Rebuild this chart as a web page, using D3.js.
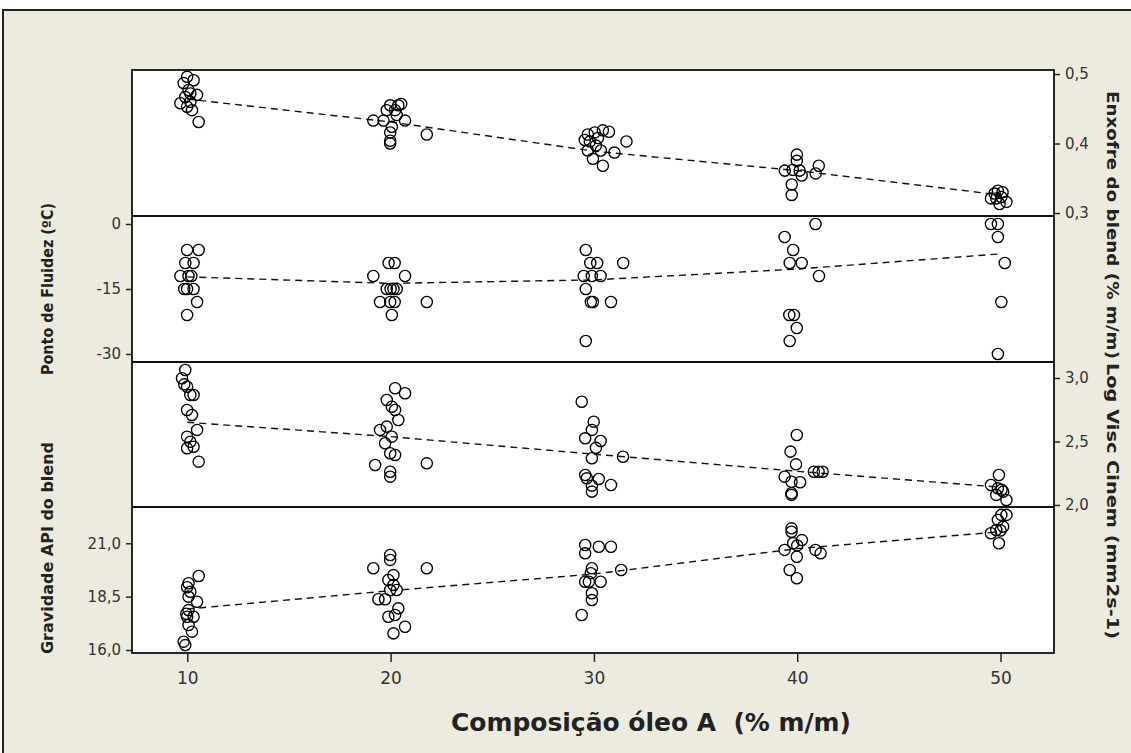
<!DOCTYPE html>
<html>
<head>
<meta charset="utf-8">
<script src="https://cdn.jsdelivr.net/npm/d3@7"></script>
<style>
  html, body { margin: 0; padding: 0; background: #ffffff; }
  svg { display: block; }
</style>
</head>
<body>
<svg id="chart" width="1131" height="753"></svg>
<script>
// ---------------- DATA ----------------
const xTicks = [10, 20, 30, 40, 50];
const groupX = [10, 20, 30, 40, 50];

// Panel 1: Enxofre do blend (% m/m)
const enxofreX = [9.99,10.31,9.82,10.06,10.48,9.90,9.66,10.15,9.99,10.23,10.56,10.15,
  19.98,20.38,19.81,20.22,19.15,20.71,19.65,20.06,19.98,19.98,19.98,21.78,20.30,20.52,
  29.70,30.04,30.44,30.74,29.80,30.10,30.34,29.70,29.95,30.44,31.01,31.60,29.55,30.20,
  39.98,39.98,39.39,39.78,40.22,39.73,39.73,40.91,41.06,40.12,
  49.71,49.87,50.04,50.29,49.95,49.53,49.79,50.10];
const enxofreY = [0.496,0.491,0.487,0.477,0.470,0.467,0.458,0.460,0.453,0.448,0.431,0.472,
  0.455,0.455,0.448,0.448,0.433,0.433,0.433,0.424,0.416,0.400,0.404,0.413,0.441,0.457,
  0.413,0.416,0.419,0.417,0.403,0.397,0.390,0.390,0.378,0.368,0.387,0.403,0.405,0.408,
  0.384,0.375,0.361,0.362,0.354,0.341,0.326,0.357,0.368,0.361,
  0.328,0.332,0.323,0.316,0.313,0.321,0.321,0.330];
const enxofreMean = [0.464, 0.431, 0.389, 0.361, 0.326];
const enxofreTicks = [0.3, 0.4, 0.5];

// Panel 2: Ponto de Fluidez (ºC)
const fluidezX = [9.99,10.56,9.90,10.31,9.66,10.06,10.20,9.99,10.31,10.48,9.99,9.85,
  19.90,20.20,19.15,20.71,19.81,20.00,20.14,20.30,19.48,19.98,20.20,21.78,20.06,
  29.60,29.82,30.16,29.50,29.90,30.33,29.60,29.85,29.95,30.84,31.44,29.60,
  40.90,39.38,39.80,39.63,40.22,41.07,39.61,39.84,39.98,39.63,
  49.53,49.87,49.87,50.21,50.04,49.87];
const fluidezY = [-6,-6,-9,-9,-12,-12,-12,-15,-15,-18,-21,-15,
  -9,-9,-12,-12,-15,-15,-15,-15,-18,-18,-18,-18,-21,
  -6,-9,-9,-12,-12,-12,-15,-18,-18,-18,-9,-27,
  0,-3,-6,-9,-9,-12,-21,-21,-24,-27,
  0,0,-3,-9,-18,-30];
const fluidezMean = [-12.2, -13.7, -12.9, -10.4, -6.9];
const fluidezTicks = [0, -15, -30];

// Panel 3: Log Visc Cinem (mm2s-1)
const viscX = [9.90,9.74,9.99,10.15,10.31,9.99,10.23,10.48,9.99,10.15,9.99,10.31,10.56,9.85,
  20.22,20.71,19.81,20.06,20.22,20.38,19.48,19.81,20.06,19.73,19.98,20.22,19.24,19.98,19.98,21.78,
  29.40,29.99,29.90,29.57,30.33,29.90,31.43,29.57,29.65,30.24,29.90,30.84,29.90,30.10,
  39.98,39.67,39.94,39.38,40.14,39.72,39.72,39.72,40.82,41.05,41.25,
  49.92,49.53,49.87,50.13,49.79,50.29,50.05];
const viscY = [3.063,2.998,2.931,2.866,2.866,2.748,2.709,2.591,2.538,2.498,2.446,2.459,2.341,2.950,
  2.919,2.880,2.827,2.774,2.748,2.669,2.591,2.617,2.538,2.486,2.407,2.394,2.315,2.262,2.223,2.328,
  2.813,2.656,2.591,2.525,2.504,2.368,2.380,2.236,2.210,2.205,2.152,2.157,2.105,2.450,
  2.551,2.420,2.320,2.223,2.179,2.183,2.092,2.079,2.262,2.262,2.262,
  2.236,2.157,2.131,2.105,2.079,2.039,2.120];
const viscMean = [2.651, 2.538, 2.400, 2.265, 2.140];
const viscTicks = [2.0, 2.5, 3.0];

// Panel 4: Gravidade API do blend
const apiX = [10.56,10.06,9.99,10.15,10.48,10.06,10.06,9.99,10.31,10.06,10.23,9.82,9.90,9.95,
  19.98,19.98,19.15,21.78,20.14,19.89,20.14,20.30,19.98,19.40,19.73,20.38,19.89,20.22,20.71,20.14,
  29.57,29.57,30.24,30.84,29.90,31.34,29.57,29.75,30.33,29.90,29.90,29.40,29.85,
  39.72,39.72,40.23,39.80,39.38,39.98,39.63,39.98,40.90,41.15,40.00,
  50.04,50.29,49.87,50.13,49.79,49.53,49.92,50.00];
const apiY = [19.47,19.13,18.94,18.73,18.26,18.50,17.87,17.56,17.56,17.17,16.86,16.39,16.23,17.70,
  20.45,20.22,19.83,19.83,19.51,19.28,19.05,18.81,18.81,18.38,18.38,17.95,17.56,17.64,17.09,16.78,
  20.92,20.53,20.84,20.84,19.83,19.75,19.20,19.20,19.20,18.66,18.34,17.64,19.60,
  21.70,21.54,21.15,21.00,20.69,20.37,19.75,19.36,20.69,20.53,20.90,
  22.33,22.33,22.09,21.78,21.62,21.47,21.00,21.60];
const apiMean = [17.92, 18.78, 19.56, 20.75, 21.54];
const apiTicks = [16.0, 18.5, 21.0];

// ---------------- LAYOUT ----------------
const svg = d3.select("#chart");
const L = 132, R = 1054, T = 70, B = 653;
const font = "'DejaVu Sans', Verdana, sans-serif";

// background frame
svg.append("rect").attr("x", 3).attr("y", 10).attr("width", 1140).attr("height", 760)
  .attr("fill", "#edeadf").attr("stroke", "#222").attr("stroke-width", 2);
svg.append("rect").attr("x", L).attr("y", T).attr("width", R - L).attr("height", B - T)
  .attr("fill", "#ffffff");

const x = d3.scaleLinear().domain([7.28, 52.63]).range([L, R]);

const comma = v => d3.format(".1f")(v).replace(".", ",");
const panels = [
  { xs: enxofreX, ys: enxofreY, mean: enxofreMean, ticks: enxofreTicks, top: 70, bottom: 216,
    domain: [0.2957, 0.5058], side: "right", fmt: comma },
  { xs: fluidezX, ys: fluidezY, mean: fluidezMean, ticks: fluidezTicks, top: 216, bottom: 362,
    domain: [-31.85, 1.846], side: "left", fmt: v => String(v) },
  { xs: viscX, ys: viscY, mean: viscMean, ticks: viscTicks, top: 362, bottom: 507,
    domain: [1.984, 3.126], side: "right", fmt: comma },
  { xs: apiX, ys: apiY, mean: apiMean, ticks: apiTicks, top: 507, bottom: B,
    domain: [15.86, 22.70], side: "left", fmt: comma }
];

panels.forEach((p, i) => {
  const y = d3.scaleLinear().domain(p.domain).range([p.bottom, p.top]);
  const g = svg.append("g");
  // mean connect line
  const line = d3.line().x((d, j) => x(groupX[j])).y(d => y(d));
  g.append("path").datum(p.mean).attr("d", line)
    .attr("fill", "none").attr("stroke", "#111").attr("stroke-width", 1.4)
    .attr("stroke-dasharray", "7,5");
  // points
  g.selectAll("circle").data(p.ys).join("circle")
    .attr("cx", (d, j) => x(p.xs[j])).attr("cy", d => y(d)).attr("r", 5.6)
    .attr("fill", "none").attr("stroke", "#000").attr("stroke-width", 1.35);
  // axis
  const axis = (p.side === "left" ? d3.axisLeft(y) : d3.axisRight(y))
    .tickValues(p.ticks).tickFormat(p.fmt).tickSize(6).tickPadding(5);
  const ag = svg.append("g")
    .attr("transform", `translate(${p.side === "left" ? L : R},0)`)
    .call(axis);
  ag.select(".domain").remove();
  ag.selectAll("line").attr("stroke", "#222").attr("stroke-width", 1.5);
  ag.selectAll("text").attr("font-family", font).attr("font-size", 15).attr("fill", "#333");
});

// panel borders
svg.append("rect").attr("x", L).attr("y", T).attr("width", R - L).attr("height", B - T)
  .attr("fill", "none").attr("stroke", "#111").attr("stroke-width", 1.8);
[216, 362, 507].forEach(yy => {
  svg.append("line").attr("x1", L).attr("x2", R).attr("y1", yy).attr("y2", yy)
    .attr("stroke", "#111").attr("stroke-width", 1.8);
});

// x axis
const xa = svg.append("g").attr("transform", `translate(0,${B})`)
  .call(d3.axisBottom(x).tickValues(xTicks).tickFormat(d => String(d)).tickSize(9).tickPadding(10));
xa.select(".domain").remove();
xa.selectAll("line").attr("stroke", "#222").attr("stroke-width", 1.5);
xa.selectAll("text").attr("font-family", font).attr("font-size", 17).attr("fill", "#333");

// titles
svg.append("text").attr("x", 651).attr("y", 731).attr("text-anchor", "middle")
  .attr("font-family", font).attr("font-weight", "bold").attr("font-size", 24).attr("fill", "#222")
  .attr("textLength", 400).attr("lengthAdjust", "spacingAndGlyphs")
  .style("white-space", "pre")
  .text("Composição óleo A  (% m/m)");

function vtitle(txt, cx, cy, rot, size, len) {
  svg.append("text").attr("transform", `translate(${cx},${cy}) rotate(${rot})`)
    .attr("text-anchor", "middle").attr("dominant-baseline", "middle")
    .attr("font-family", font).attr("font-weight", "bold").attr("font-size", size).attr("fill", "#222")
    .attr("textLength", len).attr("lengthAdjust", "spacingAndGlyphs")
    .text(txt);
}
vtitle("Ponto de Fluidez (ºC)", 48, 289, -90, 15, 172);
vtitle("Gravidade API do blend", 48, 548, -90, 15, 212);
vtitle("Enxofre do blend (% m/m)", 1111, 225, 90, 16, 268);
vtitle("Log Visc Cinem (mm2s-1)", 1111, 501, 90, 16, 276);
</script>
</body>
</html>
